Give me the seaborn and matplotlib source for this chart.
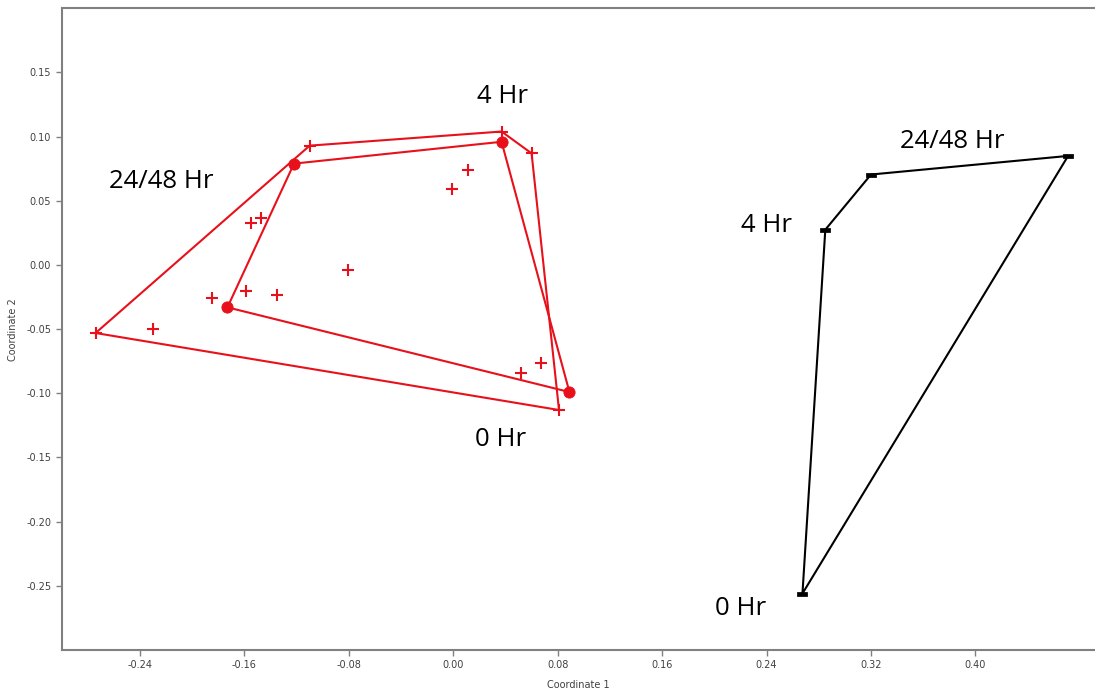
import matplotlib
matplotlib.use("Agg")
import matplotlib.pyplot as plt
import numpy as np
import pandas as pd
import seaborn as sns
from matplotlib.path import Path

# red group: individual samples (+) and group centroids (dots)
red_x = [-0.110, -0.155, -0.147, -0.081, -0.159, -0.135, -0.185, -0.230, -0.274,
         0.037, 0.060, 0.011, -0.001, 0.067, 0.052, 0.081]
red_y = [0.093, 0.033, 0.037, -0.004, -0.020, -0.023, -0.026, -0.050, -0.053,
         0.104, 0.087, 0.074, 0.059, -0.076, -0.084, -0.113]
dot_x = [-0.122, -0.173, 0.037, 0.089]
dot_y = [0.079, -0.033, 0.096, -0.099]

# black group
blk_x = [0.2675, 0.285, 0.320, 0.471]
blk_y = [-0.256, 0.0275, 0.0705, 0.085]

# time-point labels
lbl_text = ["4 Hr", "24/48 Hr", "0 Hr", "24/48 Hr", "4 Hr", "0 Hr"]
lbl_x = [0.038, -0.224, 0.036, 0.382, 0.240, 0.220]
lbl_y = [0.131, 0.065, -0.136, 0.096, 0.031, -0.268]

RED = "#e8101a"


def hull(xs, ys):
    pts = sorted(set(zip(xs, ys)))

    def cross(o, a, b):
        return (a[0] - o[0]) * (b[1] - o[1]) - (a[1] - o[1]) * (b[0] - o[0])

    lower, upper = [], []
    for p in pts:
        while len(lower) >= 2 and cross(lower[-2], lower[-1], p) <= 0:
            lower.pop()
        lower.append(p)
    for p in reversed(pts):
        while len(upper) >= 2 and cross(upper[-2], upper[-1], p) <= 0:
            upper.pop()
        upper.append(p)
    h = lower[:-1] + upper[:-1]
    h.append(h[0])
    return pd.DataFrame(h, columns=["x", "y"])


sns.set_style("white")
fig = plt.figure(figsize=(10.95, 6.94), dpi=100)
ax = fig.add_axes([0.0563, 0.0634, 0.9437, 0.9246])

for pts_x, pts_y, col in [(red_x, red_y, RED), (dot_x, dot_y, RED), (blk_x, blk_y, "black")]:
    h = hull(pts_x, pts_y)
    sns.lineplot(data=h, x="x", y="y", sort=False, estimator=None, color=col,
                 lw=1.5, ax=ax)

sns.scatterplot(x=red_x, y=red_y, marker="+", s=70, color=RED, linewidth=1.5, ax=ax,
                zorder=3)
sns.scatterplot(x=dot_x, y=dot_y, marker="o", s=65, color=RED, edgecolor=RED, ax=ax,
                zorder=3)
rect = Path([(-1, -0.45), (1, -0.45), (1, 0.45), (-1, 0.45), (-1, -0.45)])
sns.scatterplot(x=blk_x, y=blk_y, marker=rect, s=45, color="black", edgecolor="black",
                ax=ax, zorder=3)

for t, x, y in zip(lbl_text, lbl_x, lbl_y):
    ax.text(x, y, t, ha="center", va="center", fontsize=18.5, family="Open Sans",
            color="black")

ax.set_xlim(-0.30, 0.4916)
ax.set_ylim(-0.30, 0.20)
ax.set_xticks([-0.24, -0.16, -0.08, 0.00, 0.08, 0.16, 0.24, 0.32, 0.40])
ax.set_yticks([-0.25, -0.20, -0.15, -0.10, -0.05, 0.00, 0.05, 0.10, 0.15])
ax.xaxis.set_major_formatter(matplotlib.ticker.FormatStrFormatter("%.2f"))
ax.yaxis.set_major_formatter(matplotlib.ticker.FormatStrFormatter("%.2f"))
ax.tick_params(axis="both", labelsize=7, labelcolor="#404040", color="#808080",
               length=4, width=1, direction="out", bottom=True, left=True)
ax.set_xlabel("Coordinate 1", fontsize=7, color="#404040", labelpad=7)
ax.set_ylabel("Coordinate 2", fontsize=7, color="#404040", labelpad=6)
for side in ["left", "bottom", "top"]:
    ax.spines[side].set_color("#808080")
    ax.spines[side].set_linewidth(1.5)
ax.spines["right"].set_visible(False)

fig.savefig("out.png", dpi=100)
